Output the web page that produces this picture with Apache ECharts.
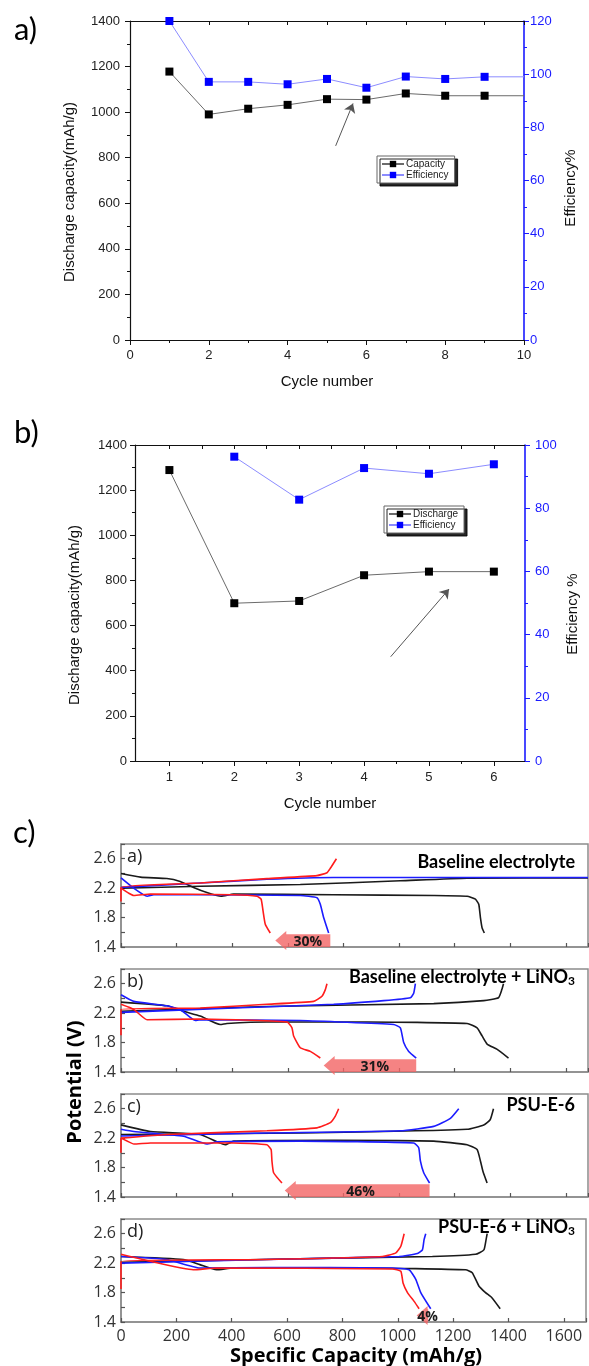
<!DOCTYPE html>
<html>
<head>
<meta charset="utf-8">
<script src="https://cdn.jsdelivr.net/npm/echarts@6/dist/echarts.min.js"></script>
<style>
  html, body { margin: 0; padding: 0; background: #fff; }
  #chart { width: 589px; height: 1366px; }
</style>
</head>
<body>
<div id="chart"></div>
<script>
// ---------- (a) cycling, baseline cell ----------
const cyclesA = [1, 2, 3, 4, 5, 6, 7, 8, 9, 10];
const capacityA = [1178, 990, 1015, 1032, 1057, 1055, 1082, 1072, 1072, 1072];
const efficiencyA = [120, 97.1, 97.1, 96.2, 98.2, 94.9, 99.1, 98.2, 99.0, 99.0];
const trendArrowA = [[5.22, 852], [5.66, 1038]];

// ---------- (b) cycling, second cell ----------
const cyclesB = [1, 2, 3, 4, 5, 6];
const dischargeB = [1289, 699, 709, 823, 839, 839];
const efficiencyB = [null, 96.3, 82.7, 92.7, 90.9, 93.9];
const trendArrowB = [[4.41, 462], [5.31, 762]];

// ---------- (c) voltage profiles: [specific capacity mAh/g, potential V] ----------
// a) Baseline electrolyte
const baseBlackDis = [[0,2.40],[70,2.35],[165,2.33],[213,2.29],[261,2.21],[309,2.14],[345,2.10],[360,2.09],[405,2.12],[765,2.11],[1125,2.10],[1245,2.09],[1275,2.05],[1287,1.98],[1293,1.80],[1299,1.66],[1307,1.59]];
const baseBlackCh  = [[0,2.20],[285,2.225],[645,2.25],[1005,2.30],[1245,2.335],[1680,2.34]];
const baseBlueDis  = [[0,2.34],[46,2.20],[94,2.09],[118,2.11],[285,2.11],[645,2.10],[705,2.07],[717,1.98],[729,1.80],[747,1.59]];
const baseBlueCh   = [[0,2.21],[285,2.27],[525,2.32],[765,2.345],[1680,2.345]];
const baseRedDis   = [[0,2.20],[28,2.13],[46,2.10],[106,2.12],[405,2.11],[489,2.09],[504,2.05],[511,1.89],[519,1.71],[537,1.59]];
const baseRedCh    = [[0,2.02],[0,2.21],[285,2.27],[525,2.33],[705,2.37],[741,2.41],[753,2.47],[775,2.60]];
// b) Baseline electrolyte + LiNO3
const lnoBlackDis = [[0,2.35],[165,2.30],[225,2.225],[285,2.16],[357,2.045],[381,2.06],[525,2.08],[885,2.08],[1245,2.06],[1281,2.00],[1299,1.89],[1317,1.78],[1352,1.71],[1394,1.59]];
const lnoBlackCh  = [[0,2.225],[525,2.29],[1125,2.33],[1305,2.37],[1358,2.41],[1370,2.52],[1376,2.60]];
const lnoBlueDis  = [[0,2.45],[46,2.36],[165,2.30],[213,2.25],[267,2.10],[285,2.11],[645,2.10],[981,2.045],[1005,2.00],[1017,1.80],[1035,1.68],[1062,1.59]];
const lnoBlueCh   = [[0,2.21],[405,2.27],[765,2.32],[945,2.37],[1041,2.41],[1053,2.47],[1059,2.60]];
const lnoRedDis   = [[0,2.32],[46,2.25],[94,2.11],[285,2.12],[597,2.08],[615,2.00],[621,1.89],[645,1.73],[681,1.68],[717,1.59]];
const lnoRedCh    = [[0,1.90],[0,2.25],[285,2.27],[525,2.32],[693,2.36],[723,2.43],[735,2.52],[741,2.60]];
// c) PSU-E-6
const psuBlackDis = [[0,2.38],[106,2.29],[285,2.25],[345,2.15],[375,2.11],[405,2.16],[765,2.17],[1125,2.16],[1245,2.11],[1281,2.045],[1293,1.89],[1302,1.75],[1317,1.59]];
const psuBlackCh  = [[0,2.25],[645,2.27],[1245,2.32],[1305,2.38],[1328,2.45],[1340,2.60]];
const psuBlueDis  = [[0,2.32],[46,2.29],[225,2.225],[309,2.12],[345,2.15],[645,2.16],[1053,2.135],[1071,2.07],[1077,1.89],[1089,1.73],[1110,1.59]];
const psuBlueCh   = [[0,2.23],[525,2.27],[1005,2.30],[1125,2.36],[1185,2.47],[1215,2.60]];
const psuRedDis   = [[0,2.00],[0,2.20],[22,2.16],[46,2.12],[106,2.135],[405,2.135],[525,2.11],[540,2.045],[543,1.89],[549,1.73],[579,1.59]];
const psuRedCh    = [[0,2.20],[165,2.25],[525,2.30],[705,2.34],[753,2.41],[771,2.50],[783,2.60]];
// d) PSU-E-6 + LiNO3
const psuLnoBlackDis = [[0,2.29],[225,2.25],[285,2.18],[345,2.11],[405,2.135],[885,2.135],[1245,2.11],[1269,2.07],[1293,1.89],[1317,1.80],[1340,1.73],[1370,1.58]];
const psuLnoBlackCh  = [[0,2.21],[645,2.26],[1125,2.29],[1281,2.32],[1311,2.38],[1319,2.52],[1323,2.60]];
const psuLnoBlueDis  = [[0,2.29],[165,2.25],[285,2.135],[525,2.14],[981,2.135],[1041,2.11],[1065,1.98],[1083,1.80],[1119,1.58]];
const psuLnoBlueCh   = [[0,2.20],[525,2.25],[1005,2.29],[1071,2.33],[1089,2.38],[1095,2.52],[1101,2.60]];
const psuLnoRedDis   = [[0,2.32],[106,2.225],[261,2.11],[345,2.135],[981,2.12],[1011,2.09],[1019,1.93],[1035,1.80],[1059,1.68],[1077,1.58]];
const psuLnoRedCh    = [[0,1.85],[0,2.225],[525,2.25],[945,2.29],[993,2.34],[1011,2.43],[1023,2.60]];

// capacity-loss arrows: from (mAh/g) -> to (mAh/g), label
const lossFrom  = [753, 1062, 1110, 1110];
const lossTo    = [555, 729, 589, 1068];
const lossLabel = ['30%', '31%', '46%', '4%'];
const lossLabelAt = [672, 913, 862, 1108];

const panelTitles = ['Baseline electrolyte', 'Baseline electrolyte + LiNO', 'PSU-E-6', 'PSU-E-6 + LiNO'];
const panelSub = ['', '3', '', '3'];
const panelLetters = ['a)', 'b)', 'c)', 'd)'];

const profiles = [
  [baseBlackDis, baseBlackCh, baseBlueDis, baseBlueCh, baseRedDis, baseRedCh],
  [lnoBlackDis, lnoBlackCh, lnoBlueDis, lnoBlueCh, lnoRedDis, lnoRedCh],
  [psuBlackDis, psuBlackCh, psuBlueDis, psuBlueCh, psuRedDis, psuRedCh],
  [psuLnoBlackDis, psuLnoBlackCh, psuLnoBlueDis, psuLnoBlueCh, psuLnoRedDis, psuLnoRedCh]
];
const profileColors = ['#1a1a1a', '#1a1a1a', '#1c1cff', '#1c1cff', '#ff1c1c', '#ff1c1c'];

// ---------- styling ----------
const SANS = '"Liberation Sans", Arial, sans-serif';
const OPEN = '"Open Sans", sans-serif';
const LATO = 'Lato, sans-serif';
const BLUE = '#1a1aff';
const INK = '#111';
const FRAME = '#8c8c8c';

const chart = echarts.init(document.getElementById('chart'), null, { renderer: 'canvas' });

const grids = [
  { left: 130, top: 21, width: 394, height: 319 },
  { left: 135, top: 445, width: 390, height: 316 }
];
const subTops = [844, 969, 1094, 1219];
subTops.forEach(t => grids.push({ left: 121, top: t, width: 467, height: 103,
  show: true, borderColor: FRAME, borderWidth: 1.5, backgroundColor: 'transparent' }));

const axLine = (c, w) => ({ show: true, onZero: false, lineStyle: { color: c, width: w || 1.2 } });
const noSplit = { show: false };
const plain = v => String(v);

const halfTicksB = cyclesB.slice(0, -1).map(c => c + 0.5);
const allTicksB = cyclesB.concat(halfTicksB).sort((a, b) => a - b);

const xAxis = [
  { gridIndex: 0, type: 'value', position: 'bottom', min: 0, max: 10, interval: 2,
    axisLine: axLine(INK), axisTick: { inside: false, length: 5, lineStyle: { color: INK } },
    minorTick: { show: true, splitNumber: 2, length: 3, lineStyle: { color: INK } },
    axisLabel: { color: '#222', fontFamily: SANS, fontSize: 13, margin: 9, formatter: plain }, splitLine: noSplit },
  { gridIndex: 0, type: 'value', position: 'top', min: 0, max: 10, interval: 1,
    axisLine: axLine(INK), axisTick: { inside: true, length: 4, lineStyle: { color: INK } },
    axisLabel: { show: false }, splitLine: noSplit },
  { gridIndex: 1, type: 'value', position: 'bottom', min: 0.47, max: 6.48,
    axisLine: axLine(INK), axisTick: { inside: false, length: 5, customValues: cyclesB, lineStyle: { color: INK } },
    axisLabel: { customValues: cyclesB, color: '#222', fontFamily: SANS, fontSize: 13, margin: 10, formatter: plain }, splitLine: noSplit },
  { gridIndex: 1, type: 'value', position: 'bottom', offset: 0, min: 0.47, max: 6.48,
    axisLine: { show: false, onZero: false }, axisTick: { inside: false, length: 3, customValues: halfTicksB, lineStyle: { color: INK } },
    axisLabel: { show: false }, splitLine: noSplit },
  { gridIndex: 1, type: 'value', position: 'top', min: 0.47, max: 6.48,
    axisLine: axLine(INK), axisTick: { inside: true, length: 4, customValues: allTicksB, lineStyle: { color: INK } },
    axisLabel: { show: false }, splitLine: noSplit }
];
for (let k = 0; k < 4; k++) {
  xAxis.push({
    gridIndex: 2 + k, type: 'value', position: 'bottom', min: 0, max: 1680, interval: 200,
    axisLine: axLine(FRAME, 1.5),
    axisTick: { inside: true, length: 4, lineStyle: { color: '#555', width: 1.2 } },
    axisLabel: { show: k === 3, color: '#333', fontFamily: OPEN, fontSize: 16, margin: 6,
      formatter: v => (v > 1600 ? '' : String(v)) },
    splitLine: noSplit
  });
}

const yAxis = [
  { gridIndex: 0, type: 'value', position: 'left', min: 0, max: 1400, interval: 200,
    axisLine: axLine(INK),
    axisTick: { show: true, inside: false, length: 5, lineStyle: { color: INK } },
    minorTick: { show: true, splitNumber: 2, length: 3, lineStyle: { color: INK } },
    axisLabel: { color: '#222', fontFamily: SANS, fontSize: 13, margin: 10, formatter: plain }, splitLine: noSplit },
  { gridIndex: 0, type: 'value', position: 'right', min: 0, max: 120, interval: 20,
    axisLine: axLine(BLUE, 1.6),
    axisTick: { show: true, inside: false, length: 5, lineStyle: { color: BLUE } },
    minorTick: { show: true, splitNumber: 2, length: 3, lineStyle: { color: BLUE } },
    axisLabel: { color: BLUE, fontFamily: SANS, fontSize: 13, margin: 6, formatter: plain }, splitLine: noSplit },
  { gridIndex: 1, type: 'value', position: 'left', min: 0, max: 1400, interval: 200,
    axisLine: axLine(INK),
    axisTick: { show: true, inside: false, length: 5, lineStyle: { color: INK } },
    minorTick: { show: true, splitNumber: 2, length: 3, lineStyle: { color: INK } },
    axisLabel: { color: '#222', fontFamily: SANS, fontSize: 13, margin: 8, formatter: plain }, splitLine: noSplit },
  { gridIndex: 1, type: 'value', position: 'right', min: 0, max: 100, interval: 20,
    axisLine: axLine(BLUE, 1.6),
    axisTick: { show: true, inside: false, length: 5, lineStyle: { color: BLUE } },
    minorTick: { show: true, splitNumber: 2, length: 3, lineStyle: { color: BLUE } },
    axisLabel: { color: BLUE, fontFamily: SANS, fontSize: 13, margin: 10, formatter: plain }, splitLine: noSplit }
];
for (let k = 0; k < 4; k++) {
  yAxis.push({
    gridIndex: 2 + k, type: 'value', min: 1.4, max: 2.8, interval: 0.2,
    axisLine: axLine(FRAME, 1.5),
    axisTick: { show: true, inside: true, length: 4, lineStyle: { color: '#555', width: 1.2 } },
    axisLabel: { color: '#333', fontFamily: OPEN, fontSize: 16, margin: 5,
      formatter: v => (Math.round(v * 10) % 4 === 2 ? v.toFixed(1) : '') },
    splitLine: noSplit
  });
}

const arrowLine = (pts) => ({
  silent: true, symbol: ['none', 'arrow'], symbolSize: 9, animation: false,
  label: { show: false }, lineStyle: { color: '#555', width: 1, type: 'solid' },
  data: [[{ coord: pts[0] }, { coord: pts[1] }]]
});

const series = [
  { name: 'Capacity', type: 'line', xAxisIndex: 0, yAxisIndex: 0,
    data: cyclesA.map((c, i) => ({ value: [c, capacityA[i]], symbol: i === cyclesA.length - 1 ? 'none' : 'rect' })),
    symbol: 'rect', symbolSize: 8, itemStyle: { color: '#000' }, lineStyle: { color: '#6b6b6b', width: 1 },
    markLine: arrowLine(trendArrowA) },
  { name: 'Efficiency', type: 'line', xAxisIndex: 0, yAxisIndex: 1,
    data: cyclesA.map((c, i) => ({ value: [c, efficiencyA[i]], symbol: i === cyclesA.length - 1 ? 'none' : 'rect' })),
    symbol: 'rect', symbolSize: 8, itemStyle: { color: '#0000ff' }, lineStyle: { color: '#8c8cff', width: 1 } },
  { name: 'Discharge', type: 'line', xAxisIndex: 2, yAxisIndex: 2,
    data: cyclesB.map((c, i) => [c, dischargeB[i]]),
    symbol: 'rect', symbolSize: 8, itemStyle: { color: '#000' }, lineStyle: { color: '#6b6b6b', width: 1 },
    markLine: arrowLine(trendArrowB) },
  { name: 'Efficiency', type: 'line', xAxisIndex: 2, yAxisIndex: 3,
    data: cyclesB.map((c, i) => [c, efficiencyB[i]]),
    symbol: 'rect', symbolSize: 8, itemStyle: { color: '#0000ff' }, lineStyle: { color: '#8c8cff', width: 1 } }
];

profiles.forEach((set, k) => {
  set.forEach((curve, j) => {
    series.push({
      type: 'line', xAxisIndex: 5 + k, yAxisIndex: 4 + k, data: curve,
      symbol: 'none', smooth: 0.15, z: 3,
      lineStyle: { color: profileColors[j], width: 1.6 }
    });
  });
  series.push({
    type: 'custom', xAxisIndex: 5 + k, yAxisIndex: 4 + k, clip: false, silent: true, z: 4,
    data: [[lossFrom[k], lossTo[k], lossLabelAt[k]]],
    renderItem: (params, api) => {
      const pr = api.coord([api.value(0), 1.575]);
      const pt = api.coord([api.value(1), 1.4]);
      const pl = api.coord([api.value(2), 1.4]);
      const xr = pr[0], yTop = pr[1], xt = pt[0], yBot = pt[1];
      const yMid = (yTop + yBot) / 2, half = 9.5;
      const xb = Math.min(xt + 11, xr);
      return {
        type: 'group',
        children: [
          { type: 'polygon',
            shape: { points: [[xt, yMid], [xb, yMid - half], [xb, yTop], [xr, yTop], [xr, yBot], [xb, yBot], [xb, yMid + half]] },
            style: { fill: 'rgba(242,100,100,0.8)' } },
          { type: 'text', x: pl[0], y: yMid + 1,
            style: { text: lossLabel[k], fill: '#1a1a1a', font: 'bold 14px "Open Sans"', align: 'center', verticalAlign: 'middle' } }
        ]
      };
    }
  });
});

const titles = [
  { text: 'a)', left: 14, top: 14, padding: 0, textStyle: { fontFamily: LATO, fontSize: 31, fontWeight: 'normal', color: '#000' } },
  { text: 'b)', left: 14, top: 417, padding: 0, textStyle: { fontFamily: LATO, fontSize: 31, fontWeight: 'normal', color: '#000' } },
  { text: 'c)', left: 13, top: 817, padding: 0, textStyle: { fontFamily: LATO, fontSize: 31, fontWeight: 'normal', color: '#000' } }
];
const titleCenters = [862, 977, 1105, 1227];
for (let k = 0; k < 4; k++) {
  titles.push({ text: panelLetters[k], left: 127, top: subTops[k] + 4, padding: 0,
    textStyle: { fontFamily: OPEN, fontSize: 18, fontWeight: 'normal', color: '#222' } });
  const txt = panelSub[k] ? '{m|' + panelTitles[k] + '}{s|' + panelSub[k] + '}' : '{m|' + panelTitles[k] + '}';
  titles.push({ text: txt, right: 14, top: titleCenters[k] - 11, padding: 0,
    textStyle: { rich: {
      m: { fontFamily: LATO, fontSize: 18, fontWeight: 'bold', color: '#000', lineHeight: 22 },
      s: { fontFamily: LATO, fontSize: 12, fontWeight: 'bold', color: '#000', lineHeight: 22, padding: [9, 0, 0, 0] }
    } } });
}

const legendBase = {
  orient: 'vertical', itemGap: 1, itemWidth: 22, itemHeight: 8, padding: [3, 6, 3, 4],
  borderColor: '#666', borderWidth: 1, backgroundColor: '#fff',
  shadowColor: 'rgba(0,0,0,0.85)', shadowOffsetX: 3, shadowOffsetY: 3, shadowBlur: 0,
  textStyle: { fontFamily: SANS, fontSize: 10, color: '#222', padding: [0, 0, 0, -3] },
  selectedMode: false
};

const graphic = [
  { type: 'text', x: 70, y: 192, rotation: Math.PI / 2,
    style: { text: 'Discharge capacity(mAh/g)', font: '15px "Liberation Sans"', fill: INK, align: 'center', verticalAlign: 'middle' } },
  { type: 'text', x: 571, y: 188, rotation: Math.PI / 2,
    style: { text: 'Efficiency%', font: '15px "Liberation Sans"', fill: INK, align: 'center', verticalAlign: 'middle' } },
  { type: 'text', x: 327, y: 382,
    style: { text: 'Cycle number', font: '15px "Liberation Sans"', fill: INK, align: 'center', verticalAlign: 'middle' } },
  { type: 'text', x: 75, y: 615, rotation: Math.PI / 2,
    style: { text: 'Discharge capacity(mAh/g)', font: '15px "Liberation Sans"', fill: INK, align: 'center', verticalAlign: 'middle' } },
  { type: 'text', x: 573, y: 614, rotation: Math.PI / 2,
    style: { text: 'Efficiency %', font: '15px "Liberation Sans"', fill: INK, align: 'center', verticalAlign: 'middle' } },
  { type: 'text', x: 330, y: 804,
    style: { text: 'Cycle number', font: '15px "Liberation Sans"', fill: INK, align: 'center', verticalAlign: 'middle' } },
  { type: 'text', x: 75, y: 1082, rotation: Math.PI / 2,
    style: { text: 'Potential (V)', font: 'bold 20px "Open Sans"', fill: '#000', align: 'center', verticalAlign: 'middle' } },
  { type: 'text', x: 356, y: 1356,
    style: { text: 'Specific Capacity (mAh/g)', font: 'bold 20px "Open Sans"', fill: '#000', align: 'center', verticalAlign: 'middle' } }
];

chart.setOption({
  animation: false,
  backgroundColor: '#fff',
  title: titles,
  legend: [
    Object.assign({}, legendBase, { data: ['Capacity', 'Efficiency'], left: 377, top: 156 }),
    Object.assign({}, legendBase, { data: ['Discharge', 'Efficiency'], left: 384, top: 506 })
  ],
  grid: grids,
  xAxis: xAxis,
  yAxis: yAxis,
  series: series,
  graphic: graphic
});
</script>
</body>
</html>
